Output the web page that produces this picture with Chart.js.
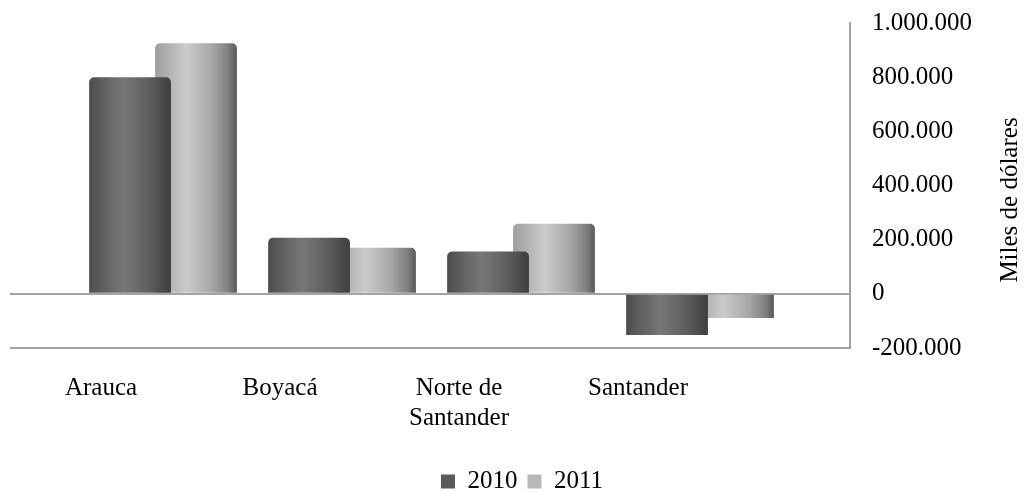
<!DOCTYPE html>
<html>
<head>
<meta charset="utf-8">
<script src="https://cdn.jsdelivr.net/npm/chart.js@4/dist/chart.umd.min.js"></script>
<style>
    html, body { margin: 0; padding: 0; background: #ffffff; }
</style>
</head>
<body>
<canvas id="grafico" width="1034" height="492"></canvas>
<script>
// Datos del grafico (miles de dolares)
const departamentos = ['Arauca', 'Boyacá', ['Norte de', 'Santander'], 'Santander'];
const anios = ['2010', '2011'];
const valores2010 = [800000, 207000, 156000, -152000];
const valores2011 = [925000, 170000, 259000, -89000];
const ticksY = [-200000, 0, 200000, 400000, 600000, 800000, 1000000];
const tituloY = 'Miles de dólares';

// Sombreado tipo cilindro para cada serie
const sombra2010 = [[0, '#4c4c4c'], [0.18, '#606060'], [0.42, '#777777'], [0.75, '#5c5c5c'], [1, '#3e3e3e']];
const sombra2011 = [[0, '#9e9e9e'], [0.38, '#cbcbcb'], [0.7, '#a6a6a6'], [0.9, '#7e7e7e'], [1, '#595959']];
const coloresLeyenda = ['#5a5a5a', '#b8b8b8'];

const catPct = 0.737;
const barPct = 1.24;

const fuente = { family: "'Liberation Serif', 'Times New Roman', serif", size: 25 };

/**
 * Devuelve un degradado horizontal que cubre exactamente la barra
 */
function RellenoBarra(context, stops, plano) {
    let chart = context.chart;
    let xScale = chart.scales.x;
    if (context.type !== 'data' || !xScale || !chart.chartArea) {
        return plano;
    }
    let unidad = xScale.getPixelForValue(1) - xScale.getPixelForValue(0);
    let trozo = unidad * catPct / 2;
    let centro = xScale.getPixelForValue(context.dataIndex) - unidad * catPct / 2
        + trozo * context.datasetIndex + trozo / 2;
    let medio = trozo * barPct / 2;
    let g = chart.ctx.createLinearGradient(centro - medio, 0, centro + medio, 0);
    stops.forEach(s => g.addColorStop(s[0], s[1]));
    return g;
}

function Puntos(valores) {
    return valores.map((v, i) => ({ x: i, y: v }));
}

function Miles(v) {
    let s = Math.abs(v).toString().replace(/\B(?=(\d{3})+(?!\d))/g, '.');
    return (v < 0 ? '-' : '') + s;
}

// Titulo del eje vertical, leido de abajo hacia arriba
const tituloEje = {
    id: 'tituloEje',
    afterDraw(chart) {
        let ctx = chart.ctx;
        ctx.save();
        ctx.translate(1010, 200);
        ctx.rotate(-Math.PI / 2);
        ctx.font = fuente.size + 'px ' + fuente.family;
        ctx.fillStyle = '#000000';
        ctx.textAlign = 'center';
        ctx.textBaseline = 'middle';
        ctx.fillText(tituloY, 0, 0);
        ctx.restore();
    }
};

let ctx = document.getElementById('grafico').getContext('2d');
let chart = new Chart(ctx, {
    type: 'bar',
    data: {
        datasets: [
            {
                label: anios[0],
                data: Puntos(valores2010),
                backgroundColor: c => RellenoBarra(c, sombra2010, coloresLeyenda[0]),
                borderRadius: c => (c.raw && c.raw.y < 0 ? 0 : 5),
                borderSkipped: 'start'
            },
            {
                label: anios[1],
                data: Puntos(valores2011),
                backgroundColor: c => RellenoBarra(c, sombra2011, coloresLeyenda[1]),
                borderRadius: c => (c.raw && c.raw.y < 0 ? 0 : 5),
                borderSkipped: 'start'
            }
        ]
    },
    options: {
        responsive: false,
        animation: false,
        categoryPercentage: catPct,
        barPercentage: barPct,
        layout: { padding: { left: 10, right: 0, top: 23, bottom: -12 } },
        plugins: {
            legend: {
                position: 'bottom',
                labels: {
                    font: fuente,
                    color: '#000000',
                    boxWidth: 14,
                    boxHeight: 14,
                    padding: 10,
                    generateLabels: chart => Chart.defaults.plugins.legend.labels.generateLabels(chart)
                        .map((l, i) => Object.assign(l, { fillStyle: coloresLeyenda[i], lineWidth: 0 }))
                }
            },
            tooltip: { enabled: false }
        },
        scales: {
            x: {
                type: 'linear',
                offset: false,
                min: -0.855,
                max: 3.838,
                grid: { display: false },
                border: { display: false },
                afterBuildTicks: s => { s.ticks = departamentos.map((d, i) => ({ value: i })); },
                afterFit: s => { s.height = 111; },
                ticks: {
                    font: fuente,
                    color: '#000000',
                    padding: 17,
                    labelOffset: -62,
                    maxRotation: 0,
                    autoSkip: false,
                    callback: v => departamentos[v]
                }
            },
            y: {
                position: 'right',
                min: ticksY[0],
                max: ticksY[ticksY.length - 1],
                afterBuildTicks: s => { s.ticks = ticksY.map(v => ({ value: v })); },
                afterFit: s => {
                    s.width = 184;
                    // sin margen extra arriba por la etiqueta superior
                    s.paddingTop = 0;
                    s.paddingBottom = 0;
                },
                grid: {
                    drawTicks: false,
                    lineWidth: 2,
                    color: c => (c.tick && (c.tick.value === 0 || c.tick.value === ticksY[0]) ? '#a3a3a3' : 'rgba(0,0,0,0)')
                },
                border: { display: true, color: '#a3a3a3', width: 2 },
                ticks: {
                    font: fuente,
                    color: '#000000',
                    padding: 22,
                    callback: v => Miles(v)
                }
            }
        }
    },
    plugins: [tituloEje]
});
</script>
</body>
</html>
